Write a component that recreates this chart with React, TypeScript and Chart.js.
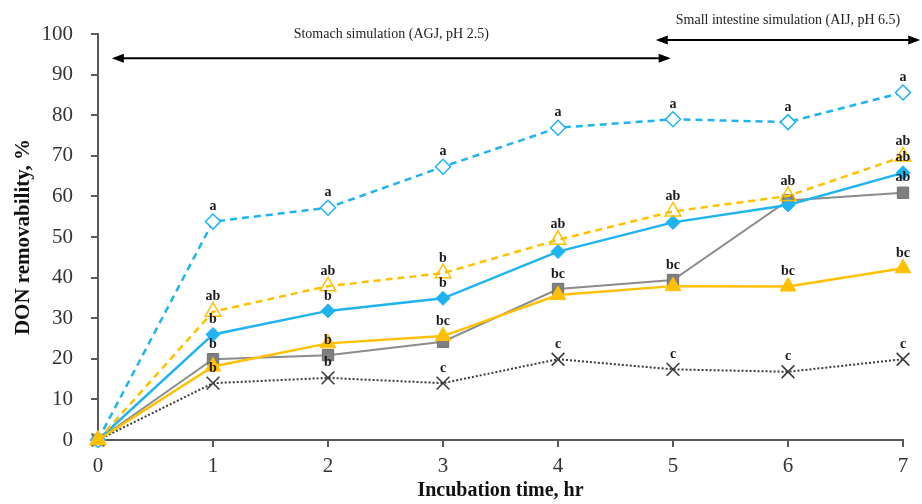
import React, { useEffect, useRef } from "react";
import { Chart, registerables } from "chart.js";

Chart.register(...registerables);

const hours = [0, 1, 2, 3, 4, 5, 6, 7];

const seriesNames = ["A", "B", "C", "D", "E", "F"];
const diamondOpen = [0, 53.8, 57.2, 67.3, 76.9, 79.0, 78.3, 85.6];
const triangleOpen = [0, 31.6, 37.9, 41.1, 49.3, 56.3, 60.1, 69.8];
const diamondFilled = [0, 26.0, 31.8, 34.9, 46.4, 53.6, 57.9, 65.8];
const squareFilled = [0, 19.9, 20.9, 24.2, 37.2, 39.4, 59.0, 60.9];
const crossMark = [0, 14.0, 15.3, 14.0, 19.9, 17.4, 16.8, 19.9];
const triangleFilled = [0, 18.1, 23.8, 25.6, 35.7, 37.9, 37.8, 42.3];

const lettersDiamondOpen = ["", "a", "a", "a", "a", "a", "a", "a"];
const lettersTriangleOpen = ["", "ab", "ab", "b", "ab", "ab", "ab", "ab"];
const lettersDiamondFilled = ["", "b", "b", "b", "", "", "", "ab"];
const lettersSquareFilled = ["", "b", "b", "", "bc", "bc", "", "ab"];
const lettersCross = ["", "b", "b", "c", "c", "c", "c", "c"];
const lettersTriangleFilled = ["", "", "", "bc", "", "", "bc", "bc"];

const yTicksMin = 0;
const yTicksMax = 100;
const yStep = 10;

const phaseLabels = ["Stomach simulation (AGJ, pH 2.5)", "Small intestine simulation (AIJ, pH 6.5)"];
const phaseStart = [0.12, 4.85];
const phaseEnd = [4.98, 7.15];
const phaseLevel = [94, 98.5];
const phaseLabelLevel = [99.8, 103.4];

const SERIF = "'Liberation Serif', 'Times New Roman', serif";

export default function App() {
  const ref = useRef<HTMLCanvasElement | null>(null);

  useEffect(() => {
    document.body.style.margin = "0";
    const canvas = ref.current;
    if (!canvas) return;

    const toPts = (arr: number[]) => arr.map((v, i) => ({ x: hours[i], y: v }));

    const letterMap: Record<string, string[]> = {
      diamondOpen: lettersDiamondOpen,
      triangleOpen: lettersTriangleOpen,
      diamondFilled: lettersDiamondFilled,
      squareFilled: lettersSquareFilled,
      cross: lettersCross,
      triangleFilled: lettersTriangleFilled,
    };

    const blue = "#1fb3ef";
    const orange = "#ffc000";
    const gray = "#7f7f7f";
    const dark = "#3a3a3a";

    const datasets: any[] = [
      {
        label: seriesNames[5],
        key: "triangleFilled",
        data: toPts(triangleFilled),
        borderColor: orange,
        backgroundColor: orange,
        borderWidth: 2.5,
        pointStyle: "triangle",
        pointRadius: 9,
        pointBorderWidth: 1,
        pointBackgroundColor: orange,
        pointBorderColor: orange,
      },
      {
        label: seriesNames[1],
        key: "triangleOpen",
        data: toPts(triangleOpen),
        borderColor: orange,
        borderWidth: 2.5,
        borderDash: [7, 5],
        pointStyle: "triangle",
        pointRadius: 9,
        pointBorderWidth: 1.5,
        pointBackgroundColor: "rgba(255,255,255,0)",
        pointBorderColor: orange,
      },
      {
        label: seriesNames[0],
        key: "diamondOpen",
        data: toPts(diamondOpen),
        borderColor: blue,
        borderWidth: 2.5,
        borderDash: [7, 5],
        pointStyle: "rectRot",
        pointRadius: 7.5,
        pointBorderWidth: 1.5,
        pointBackgroundColor: "#ffffff",
        pointBorderColor: blue,
      },
      {
        label: seriesNames[2],
        key: "diamondFilled",
        data: toPts(diamondFilled),
        borderColor: blue,
        borderWidth: 2.5,
        pointStyle: "rectRot",
        pointRadius: 7,
        pointBorderWidth: 1,
        pointBackgroundColor: blue,
        pointBorderColor: blue,
      },
      {
        label: seriesNames[3],
        key: "squareFilled",
        data: toPts(squareFilled),
        borderColor: "#8c8c8c",
        borderWidth: 2,
        pointStyle: "rect",
        pointRadius: 8,
        pointBorderWidth: 1,
        pointBackgroundColor: gray,
        pointBorderColor: "#6f6f6f",
      },
      {
        label: seriesNames[4],
        key: "cross",
        data: toPts(crossMark),
        borderColor: dark,
        borderWidth: 2,
        borderDash: [2, 2],
        pointStyle: "crossRot",
        pointRadius: 9,
        pointBorderWidth: 1.6,
        pointBackgroundColor: dark,
        pointBorderColor: dark,
      },
    ].map((d) => ({ ...d, fill: false, tension: 0, clip: false }));

    const lettersPlugin = {
      id: "letters",
      afterDatasetsDraw(chart: any) {
        const ctx = chart.ctx;
        ctx.save();
        ctx.font = `bold 14px ${SERIF}`;
        ctx.fillStyle = "#1a1a1a";
        ctx.textAlign = "center";
        ctx.textBaseline = "middle";
        chart.data.datasets.forEach((ds: any, di: number) => {
          const letters = letterMap[ds.key];
          const meta = chart.getDatasetMeta(di);
          meta.data.forEach((pt: any, i: number) => {
            const t = letters[i];
            if (!t) return;
            ctx.fillText(t, pt.x, pt.y - 15);
          });
        });
        ctx.restore();
      },
    };

    const drawHead = (ctx: CanvasRenderingContext2D, x: number, y: number, dir: number) => {
      ctx.beginPath();
      ctx.moveTo(x, y);
      ctx.lineTo(x - dir * 12, y - 4.5);
      ctx.lineTo(x - dir * 12, y + 4.5);
      ctx.closePath();
      ctx.fill();
    };

    const phasePlugin = {
      id: "phases",
      afterDraw(chart: any) {
        const ctx = chart.ctx;
        const xs = chart.scales.x;
        const ys = chart.scales.y;
        ctx.save();
        ctx.strokeStyle = "#000";
        ctx.lineWidth = 2;
        phaseLabels.forEach((lab, i) => {
          const x1 = xs.getPixelForValue(phaseStart[i]);
          const x2 = xs.getPixelForValue(phaseEnd[i]);
          const y = ys.getPixelForValue(phaseLevel[i]);
          ctx.fillStyle = "#000";
          ctx.beginPath();
          ctx.moveTo(x1 + 8, y);
          ctx.lineTo(x2 - 8, y);
          ctx.stroke();
          drawHead(ctx, x1, y, -1);
          drawHead(ctx, x2, y, 1);
          ctx.font = `14px ${SERIF}`;
          ctx.fillStyle = "#222";
          ctx.textAlign = "center";
          ctx.textBaseline = "middle";
          ctx.fillText(lab, (x1 + x2) / 2, ys.getPixelForValue(phaseLabelLevel[i]));
        });
        ctx.restore();
      },
    };

    const chart = new Chart(canvas, {
      type: "line",
      data: { datasets },
      options: {
        responsive: false,
        animation: false,
        layout: { padding: { left: 0, right: 19, top: 34, bottom: 0 } },
        plugins: {
          legend: { display: false },
          tooltip: { enabled: false },
        },
        scales: {
          x: {
            type: "linear",
            min: 0,
            max: 7,
            afterFit: (s: any) => {
              s.height = 64;
            },
            ticks: {
              stepSize: 1,
              color: "#333",
              padding: 7,
              font: { family: SERIF, size: 21 },
            },
            grid: {
              display: true,
              drawOnChartArea: false,
              drawTicks: true,
              tickLength: 7,
              color: "#595959",
              lineWidth: 2,
            },
            border: { display: true, color: "#595959", width: 2 },
            title: {
              display: true,
              text: "Incubation time, hr",
              color: "#111",
              font: { family: SERIF, size: 20, weight: "bold" },
              padding: { top: 0, bottom: 1 },
            },
          },
          y: {
            min: yTicksMin,
            max: yTicksMax,
            afterFit: (s: any) => {
              s.width = 98;
            },
            ticks: {
              stepSize: yStep,
              color: "#333",
              padding: 18,
              font: { family: SERIF, size: 21 },
            },
            grid: {
              display: true,
              drawOnChartArea: false,
              drawTicks: true,
              tickLength: 7,
              color: "#595959",
              lineWidth: 2,
            },
            border: { display: true, color: "#595959", width: 2 },
            title: {
              display: true,
              text: "DON removability, %",
              color: "#111",
              font: { family: SERIF, size: 21, weight: "bold" },
              padding: { top: 11, bottom: 0 },
            },
          },
        },
      },
      plugins: [lettersPlugin, phasePlugin],
    } as any);

    return () => chart.destroy();
  }, []);

  return (
    <div style={{ width: 922, height: 504, background: "#fff" }}>
      <canvas ref={ref} width={922} height={504} style={{ display: "block" }} />
    </div>
  );
}
